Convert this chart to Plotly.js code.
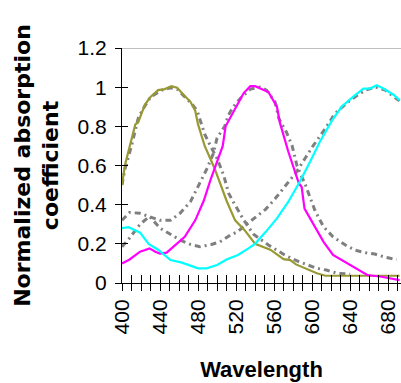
<!DOCTYPE html>
<html>
<head>
<meta charset="utf-8">
<script src="https://cdn.plot.ly/plotly-3.0.1.min.js"></script>
<style>html,body{margin:0;padding:0;background:#fff;}#chart{width:401px;height:383px;}</style>
</head>
<body>
<div id="chart"></div>
<script>
// Olive curve
const oliveX = [400,403,414,417,424,430,438,445,452,458,465,472,477,480,487,497,502,510,519,529,540,556,570,577,583,590,598,605,614,692];
const oliveY = [0.50,0.60,0.81,0.82,0.91,0.95,0.985,0.99,1.005,0.997,0.96,0.925,0.88,0.81,0.70,0.59,0.525,0.42,0.32,0.27,0.20,0.17,0.122,0.117,0.095,0.08,0.065,0.05,0.037,0.037];
// Magenta curve
const magentaX = [400,408,419,429,435,440,447,454,466,477,486,493,500,506,509,517,528,535,540,554,563,566,575,586,589,592,603,612,622,637,647,658,673,692];
const magentaY = [0.10,0.12,0.16,0.177,0.16,0.15,0.155,0.185,0.236,0.32,0.42,0.525,0.62,0.70,0.80,0.87,0.97,1.005,1.005,0.975,0.90,0.82,0.67,0.51,0.49,0.38,0.287,0.21,0.143,0.10,0.075,0.041,0.032,0.015];
// Cyan curve
const cyanX = [400,407,419,428,438,451,463,480,489,500,510,522,533,540,551,563,575,584,587,598,608,621,631,643,654,661,668,675,686,692];
const cyanY = [0.28,0.285,0.257,0.20,0.17,0.117,0.104,0.075,0.075,0.092,0.12,0.143,0.177,0.20,0.26,0.33,0.415,0.49,0.517,0.62,0.72,0.83,0.90,0.95,0.993,0.993,1.01,0.993,0.96,0.934];
// Gray dashed fits
const grayAX = [400,403,410,417,421,430,442,451,458,468,473,479,482,487,493,500,507,512,517,527,538,554,573,586,605,615,626,640];
const grayAY = [0.50,0.58,0.70,0.84,0.88,0.95,0.985,0.997,0.99,0.94,0.917,0.88,0.83,0.76,0.70,0.636,0.55,0.46,0.415,0.33,0.25,0.194,0.138,0.109,0.075,0.066,0.05,0.045];
const grayBX = [400,408,419,429,440,451,461,472,482,489,496,500,508,512,517,526,535,545,552,561,565,573,579,584,593,603,612,622,635,645,656,666,677,689];
const grayBY = [0.32,0.36,0.356,0.34,0.32,0.32,0.356,0.415,0.51,0.58,0.66,0.74,0.80,0.857,0.90,0.95,0.99,1.0,0.985,0.925,0.84,0.77,0.70,0.60,0.50,0.37,0.287,0.236,0.194,0.168,0.155,0.148,0.131,0.12];
const grayCX = [400,408,419,429,440,451,461,472,482,494,503,514,521,531,542,551,561,573,584,593,601,614,624,640,656,667,677,686,692];
const grayCY = [0.185,0.23,0.30,0.34,0.28,0.25,0.22,0.197,0.185,0.197,0.21,0.245,0.26,0.30,0.34,0.376,0.43,0.50,0.57,0.64,0.70,0.79,0.865,0.934,0.985,1.0,0.985,0.95,0.93];
// Ticks
const xTickVals = [400,440,480,520,560,600,640,680];
const xTickText = ['400','440','480','520','560','600','640','680'];
const yTickVals = [0,0.2,0.4,0.6,0.8,1,1.2];
const yTickText = ['0','0.2','0.4','0.6','0.8','1','1.2'];

const grayLine = {color:'#7f7f7f', width:3, dash:'6px,4px,2px,4px'};
const traces = [
  {x:grayAX, y:grayAY, mode:'lines', line:grayLine, hoverinfo:'skip'},
  {x:grayBX, y:grayBY, mode:'lines', line:grayLine, hoverinfo:'skip'},
  {x:grayCX, y:grayCY, mode:'lines', line:grayLine, hoverinfo:'skip'},
  {x:oliveX, y:oliveY, mode:'lines', line:{color:'#999933', width:2.2}},
  {x:magentaX, y:magentaY, mode:'lines', line:{color:'#ff00ff', width:2.2}},
  {x:cyanX, y:cyanY, mode:'lines', line:{color:'#00ffff', width:2.2}},
  {x:[], y:[], xaxis:'x2', yaxis:'y2', mode:'lines'}
];
const tickFont = {family:'Liberation Sans, Arial, sans-serif', size:21, color:'#000'};
const layout = {
  width:401, height:383,
  margin:{l:122, r:0, t:48, b:100, pad:0},
  paper_bgcolor:'#fff', plot_bgcolor:'#fff',
  showlegend:false,
  xaxis:{
    range:[400,693.5], tickmode:'array', tickvals:xTickVals, ticktext:xTickText,
    tickangle:-90, ticks:'outside', ticklen:7, tickwidth:1, tickcolor:'#000',
    showline:true, linecolor:'#000', linewidth:1, showgrid:false, zeroline:false,
    minor:{tickmode:'linear', tick0:400, dtick:10, ticks:'outside', ticklen:7, tickwidth:1, tickcolor:'#000', showgrid:false},
    tickfont:tickFont, automargin:false,
    title:{text:'Wavelength', font:{family:'Liberation Sans, Arial, sans-serif', size:22, color:'#000', weight:'bold'}, standoff:28}
  },
  yaxis:{
    range:[0,1.2], tickmode:'array', tickvals:yTickVals, ticktext:yTickText,
    ticks:'outside', ticklen:6, tickwidth:1, tickcolor:'#000',
    showline:true, linecolor:'#000', linewidth:1, showgrid:false, zeroline:false,
    tickfont:tickFont, automargin:false, ticklabelstandoff:4,
    title:{text:'Normalized absorption<br>coefficient', font:{family:'DejaVu Sans, sans-serif', size:22, color:'#000', weight:'bold'}, standoff:12}
  },
  xaxis2:{range:[400,693.5], overlaying:'x', anchor:'y2', tickmode:'linear', tick0:400, dtick:10,
    ticks:'inside', ticklen:8, tickwidth:1, tickcolor:'#000', showticklabels:false, showline:false, showgrid:false, zeroline:false},
  yaxis2:{range:[0,1.2], overlaying:'y', anchor:'x2', side:'left', tickmode:'linear', tick0:0, dtick:0.2,
    ticks:'inside', ticklen:6, tickwidth:1, tickcolor:'#000', showticklabels:false, showline:false, showgrid:false, zeroline:false},
  shapes:[{type:'line', xref:'paper', x0:0, x1:1, yref:'y', y0:1.2, y1:1.2, line:{color:'#808080', width:1.2}, layer:'below'}]
};
Plotly.newPlot('chart', traces, layout, {displayModeBar:false, staticPlot:true});
</script>
</body>
</html>
